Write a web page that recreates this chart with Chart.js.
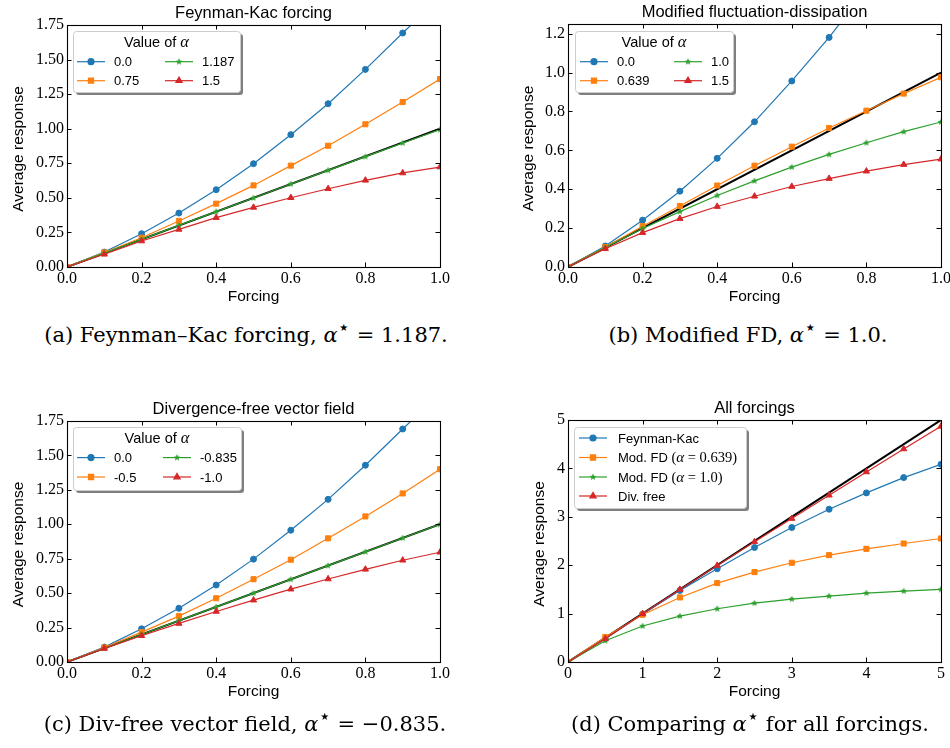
<!DOCTYPE html>
<html>
<head>
<meta charset="utf-8">
<script src="https://cdn.jsdelivr.net/npm/chart.js@4"></script>
<style>
  html, body { margin: 0; padding: 0; background: #fff; width: 950px; height: 748px; overflow: hidden; position: relative; }
  canvas { position: absolute; }
  .cap { position: absolute; font-family: 'DejaVu Serif', serif; font-size: 21px; white-space: nowrap;
         transform: translate(-50%, -50%); line-height: 1; color: #000; }
  .cap sup { font-family: 'DejaVu Sans', sans-serif; font-size: 0.95em; vertical-align: 0.4em; line-height: 0; }
</style>
</head>
<body>
<canvas id="chartA" width="475" height="310" style="left:0;top:0"></canvas>
<canvas id="chartB" width="490" height="310" style="left:475px;top:0"></canvas>
<canvas id="chartC" width="475" height="310" style="left:0;top:400px"></canvas>
<canvas id="chartD" width="490" height="310" style="left:475px;top:400px"></canvas>

<div class="cap" style="left:246px;top:335px">(a) Feynman–Kac forcing, <i>α</i><sup>⋆</sup> = 1.187.</div>
<div class="cap" style="left:748px;top:335px">(b) Modified FD, <i>α</i><sup>⋆</sup> = 1.0.</div>
<div class="cap" style="left:245px;top:724px">(c) Div-free vector field, <i>α</i><sup>⋆</sup> = −0.835.</div>
<div class="cap" style="left:750px;top:724px">(d) Comparing <i>α</i><sup>⋆</sup> for all forcings.</div>

<script>
// forcing values
const forcing = [0, 0.1, 0.2, 0.3, 0.4, 0.5, 0.6, 0.7, 0.8, 0.9, 1.0];
const forcingAll = [0, 0.5, 1, 1.5, 2, 2.5, 3, 3.5, 4, 4.5, 5];

// alpha = 0 (same in a, b, c)
const respAlpha0 = [0, 0.108, 0.241, 0.39, 0.559, 0.747, 0.957, 1.181, 1.429, 1.692, 1.95];

// (a) Feynman-Kac
const fkAlpha075 = [0, 0.105, 0.212, 0.333, 0.458, 0.59, 0.733, 0.877, 1.032, 1.193, 1.359];
const fkAlpha1187 = [0, 0.1, 0.2, 0.301, 0.4, 0.499, 0.6, 0.699, 0.798, 0.897, 0.993];
const fkAlpha15 = [0, 0.092, 0.188, 0.272, 0.357, 0.431, 0.501, 0.566, 0.627, 0.68, 0.723];

// (b) modified FD
const fdAlpha0639 = [0, 0.103, 0.21, 0.314, 0.419, 0.521, 0.619, 0.715, 0.804, 0.892, 0.976];
const fdAlpha10 = [0, 0.1, 0.198, 0.285, 0.368, 0.443, 0.514, 0.579, 0.639, 0.696, 0.746];
const fdAlpha15 = [0, 0.094, 0.177, 0.249, 0.311, 0.364, 0.414, 0.455, 0.493, 0.527, 0.555];

// (c) divergence-free
const dfAlphaM05 = [0, 0.105, 0.217, 0.333, 0.463, 0.601, 0.743, 0.898, 1.057, 1.224, 1.40];
const dfAlphaM0835 = [0, 0.1, 0.2, 0.3, 0.4, 0.5, 0.6, 0.7, 0.8, 0.9, 0.999];
const dfAlphaM10 = [0, 0.099, 0.191, 0.28, 0.367, 0.449, 0.529, 0.603, 0.673, 0.739, 0.797];

// (d) all forcings at optimal alpha
const allFK = [0, 0.48, 0.99, 1.479, 1.926, 2.366, 2.779, 3.157, 3.494, 3.81, 4.085];
const allFD0639 = [0, 0.516, 0.977, 1.334, 1.63, 1.857, 2.05, 2.208, 2.338, 2.448, 2.552];
const allFD10 = [0, 0.44, 0.743, 0.949, 1.10, 1.217, 1.30, 1.362, 1.424, 1.465, 1.499];
const allDF = [0, 0.48, 0.997, 1.499, 1.994, 2.483, 2.964, 3.446, 3.927, 4.402, 4.869];

// reference line y = x
const identityUnit = [0, 1];
const identityAll = [0, 5];

// tick labels
const xTicksUnit = [0, 0.2, 0.4, 0.6, 0.8, 1.0];
const xTicksAll = [0, 1, 2, 3, 4, 5];
const yTicksWide = [0, 0.25, 0.5, 0.75, 1.0, 1.25, 1.5, 1.75];
const yTicksFD = [0, 0.2, 0.4, 0.6, 0.8, 1.0, 1.2];
const yTicksAll = [0, 1, 2, 3, 4, 5];

// legend labels
const labelsA = ['0.0', '0.75', '1.187', '1.5'];
const labelsB = ['0.0', '0.639', '1.0', '1.5'];
const labelsC = ['0.0', '-0.5', '-0.835', '-1.0'];
const labelsD = ['Feynman-Kac', 'Mod. FD (α = 0.639)', 'Mod. FD (α = 1.0)', 'Div. free'];

const colors = ['#1f77b4', '#ff7f0e', '#2ca02c', '#d62728'];

Chart.defaults.font.family = "'Liberation Serif'";

function starImage(color, r) {
    const c = document.createElement('canvas');
    const s = Math.ceil(r * 2 + 2);
    c.width = s; c.height = s;
    const g = c.getContext('2d');
    g.fillStyle = color;
    g.beginPath();
    for (let i = 0; i < 10; i++) {
        const rad = i % 2 ? r * 0.45 : r;
        const a = -Math.PI / 2 + i * Math.PI / 5;
        g.lineTo(s / 2 + rad * Math.cos(a), s / 2 + rad * Math.sin(a));
    }
    g.closePath();
    g.fill();
    return c;
}

const markers = [
    { pointStyle: 'circle', radius: 3 },
    { pointStyle: 'rect', radius: 3.6 },
    { pointStyle: starImage(colors[2], 3.6), radius: 3 },
    { pointStyle: 'triangle', radius: 3.6 }
];

function toPoints(xs, ys) {
    return ys.map((y, i) => ({ x: xs[i], y: y }));
}

// text with math parts (α and everything from '(') in serif
function drawRich(ctx, text, x, y, size) {
    let serif = false;
    let runs = [];
    for (const ch of text) {
        if (ch === '(' ) serif = true;
        const font = ch === 'α' ? `italic ${size + 2}px 'Liberation Serif'`
                   : serif ? `${size + 1.5}px 'Liberation Serif'`
                   : `${size}px 'Liberation Sans'`;
        if (runs.length && runs[runs.length - 1].font === font) runs[runs.length - 1].t += ch;
        else runs.push({ font: font, t: ch });
    }
    let cx = x;
    runs.forEach(r => {
        ctx.font = r.font;
        ctx.fillText(r.t, cx, y);
        cx += ctx.measureText(r.t).width;
    });
    return cx - x;
}

function measureRich(ctx, text, size) {
    ctx.save();
    ctx.globalAlpha = 0;
    const w = drawRich(ctx, text, -1000, -1000, size);
    ctx.restore();
    return w;
}

const panelDecor = {
    id: 'panelDecor',
    afterDatasetsDraw(chart, args, opts) {
        const ctx = chart.ctx;
        const { left, right, top, bottom } = chart.chartArea;
        const xs = chart.scales.x, ys = chart.scales.y;
        ctx.save();
        ctx.strokeStyle = '#000';
        ctx.lineWidth = 1;
        ctx.beginPath();
        xs.ticks.forEach(t => {
            const px = Math.round(xs.getPixelForValue(t.value)) + 0.5;
            ctx.moveTo(px, bottom); ctx.lineTo(px, bottom - 4.5);
            ctx.moveTo(px, top); ctx.lineTo(px, top + 4.5);
        });
        ys.ticks.forEach(t => {
            const py = Math.round(ys.getPixelForValue(t.value)) + 0.5;
            ctx.moveTo(left, py); ctx.lineTo(left + 4.5, py);
            ctx.moveTo(right, py); ctx.lineTo(right - 4.5, py);
        });
        ctx.stroke();
        ctx.lineWidth = 1.1;
        ctx.strokeRect(Math.round(left) + 0.5, Math.round(top) + 0.5, Math.round(right - left), Math.round(bottom - top));

        // titles
        ctx.fillStyle = '#000';
        ctx.textAlign = 'center';
        ctx.textBaseline = 'middle';
        ctx.font = "16.5px 'Liberation Sans'";
        ctx.fillText(opts.title, (left + right) / 2, top - 12);
        ctx.font = "15.5px 'Liberation Sans'";
        ctx.fillText('Forcing', (left + right) / 2, bottom + 30);
        ctx.save();
        ctx.translate(left - opts.yTitleDx, (top + bottom) / 2 + 3);
        ctx.rotate(-Math.PI / 2);
        ctx.fillText('Average response', 0, 0);
        ctx.restore();

        // legend
        const lg = opts.legend;
        ctx.save();
        ctx.fillStyle = 'rgba(0,0,0,0.5)';
        ctx.beginPath();
        ctx.roundRect(lg.x + 3, lg.y + 3, lg.w, lg.h, 3);
        ctx.fill();
        ctx.fillStyle = '#fff';
        ctx.strokeStyle = '#cccccc';
        ctx.lineWidth = 1;
        ctx.beginPath();
        ctx.roundRect(lg.x + 0.5, lg.y + 0.5, lg.w, lg.h, 3);
        ctx.fill();
        ctx.stroke();
        ctx.restore();

        ctx.textAlign = 'left';
        ctx.fillStyle = '#000';
        if (lg.title) {
            const tw = measureRich(ctx, lg.title, 14.5);
            drawRich(ctx, lg.title, lg.x + lg.w / 2 - tw / 2, lg.y + lg.titleY, 14.5);
        }
        opts.labels.forEach((label, i) => {
            const slot = lg.slots[i];
            const hx = lg.x + lg.cols[slot[0]];
            const hy = lg.y + lg.rows[slot[1]];
            const ds = chart.data.datasets[i];
            ctx.strokeStyle = ds.borderColor;
            ctx.fillStyle = ds.borderColor;
            ctx.lineWidth = ds.borderWidth;
            ctx.beginPath();
            ctx.moveTo(hx, hy); ctx.lineTo(hx + 28, hy);
            ctx.stroke();
            Chart.helpers.drawPoint(ctx, {
                pointStyle: ds.pointStyle, radius: ds.pointRadius, rotation: 0, borderWidth: 1
            }, hx + 14, hy);
            ctx.fillStyle = '#000';
            drawRich(ctx, label, hx + lg.labelDx, hy + 1, 13);
        });
        ctx.restore();
    }
};

function makeChart(id, p) {
    const datasets = p.series.map((ys, i) => ({
        label: p.labels[i],
        data: toPoints(p.xs, ys),
        borderColor: colors[i],
        backgroundColor: colors[i],
        borderWidth: 1.2,
        pointStyle: markers[i].pointStyle,
        pointRadius: markers[i].radius,
        pointBorderWidth: 1,
        pointHoverRadius: markers[i].radius,
        tension: 0,
        clip: 0,
        order: -i
    }));
    datasets.push({
        label: 'y = x',
        data: toPoints(p.identity, p.identity),
        borderColor: '#000',
        borderWidth: 2,
        pointRadius: 0,
        clip: 0,
        order: 1
    });
    const tickFont = { family: "'Liberation Serif'", size: 16 };
    return new Chart(document.getElementById(id), {
        type: 'line',
        data: { datasets: datasets },
        options: {
            responsive: false,
            animation: false,
            layout: { padding: { left: 0, top: p.box.padT, right: p.box.padR, bottom: 0 } },
            scales: {
                x: {
                    type: 'linear', min: 0, max: p.xMax,
                    afterBuildTicks: s => { s.ticks = p.xTicks.map(v => ({ value: v })); },
                    afterFit: s => { s.height = p.box.xh; },
                    ticks: { callback: v => Number(v).toFixed(p.xDec), font: tickFont, color: '#000',
                             padding: 2, maxRotation: 0, autoSkip: false },
                    grid: { display: false, drawTicks: false },
                    border: { display: false }
                },
                y: {
                    type: 'linear', min: 0, max: p.yMax,
                    afterBuildTicks: s => { s.ticks = p.yTicks.map(v => ({ value: v })); },
                    afterFit: s => { s.width = p.box.yw; },
                    ticks: { callback: v => Number(v).toFixed(p.yDec), font: tickFont, color: '#000',
                             padding: 3, autoSkip: false },
                    grid: { display: false, drawTicks: false },
                    border: { display: false }
                }
            },
            plugins: {
                legend: { display: false },
                tooltip: { enabled: false },
                panelDecor: { title: p.title, yTitleDx: p.yTitleDx, legend: p.legend, labels: p.labels }
            }
        },
        plugins: [panelDecor]
    });
}

makeChart('chartA', {
    title: 'Feynman-Kac forcing', xs: forcing, identity: identityUnit,
    series: [respAlpha0, fkAlpha075, fkAlpha1187, fkAlpha15], labels: labelsA,
    xMax: 1, yMax: 1.75, xTicks: xTicksUnit, yTicks: yTicksWide, xDec: 1, yDec: 2,
    box: { yw: 67, padT: 25, padR: 35, xh: 43 }, yTitleDx: 48.7,
    legend: { x: 73, y: 31, w: 167, h: 61, title: 'Value of α', titleY: 11.7,
              rows: [30.7, 49.7], cols: [4, 92], labelDx: 37, slots: [[0, 0], [0, 1], [1, 0], [1, 1]] }
});

makeChart('chartB', {
    title: 'Modified fluctuation-dissipation', xs: forcing, identity: identityUnit,
    series: [respAlpha0, fdAlpha0639, fdAlpha10, fdAlpha15], labels: labelsB,
    xMax: 1, yMax: 1.25, xTicks: xTicksUnit, yTicks: yTicksFD, xDec: 1, yDec: 1,
    box: { yw: 93, padT: 24, padR: 24, xh: 43 }, yTitleDx: 39.7,
    legend: { x: 100, y: 31, w: 158, h: 61, title: 'Value of α', titleY: 11.7,
              rows: [30.7, 49.7], cols: [5, 99], labelDx: 37, slots: [[0, 0], [0, 1], [1, 0], [1, 1]] }
});

makeChart('chartC', {
    title: 'Divergence-free vector field', xs: forcing, identity: identityUnit,
    series: [respAlpha0, dfAlphaM05, dfAlphaM0835, dfAlphaM10], labels: labelsC,
    xMax: 1, yMax: 1.75, xTicks: xTicksUnit, yTicks: yTicksWide, xDec: 1, yDec: 2,
    box: { yw: 67, padT: 21, padR: 35, xh: 48 }, yTitleDx: 48.7,
    legend: { x: 73, y: 27, w: 168, h: 63, title: 'Value of α', titleY: 11.6,
              rows: [30.6, 50], cols: [4, 90], labelDx: 37, slots: [[0, 0], [0, 1], [1, 0], [1, 1]] }
});

makeChart('chartD', {
    title: 'All forcings', xs: forcingAll, identity: identityAll,
    series: [allFK, allFD0639, allFD10, allDF], labels: labelsD,
    xMax: 5, yMax: 5, xTicks: xTicksAll, yTicks: yTicksAll, xDec: 0, yDec: 0,
    box: { yw: 93, padT: 20, padR: 24, xh: 48 }, yTitleDx: 28,
    legend: { x: 99, y: 27, w: 172, h: 81, title: null, titleY: 0,
              rows: [11, 30.5, 50, 69], cols: [5], labelDx: 39, slots: [[0, 0], [0, 1], [0, 2], [0, 3]] }
});
</script>
</body>
</html>
